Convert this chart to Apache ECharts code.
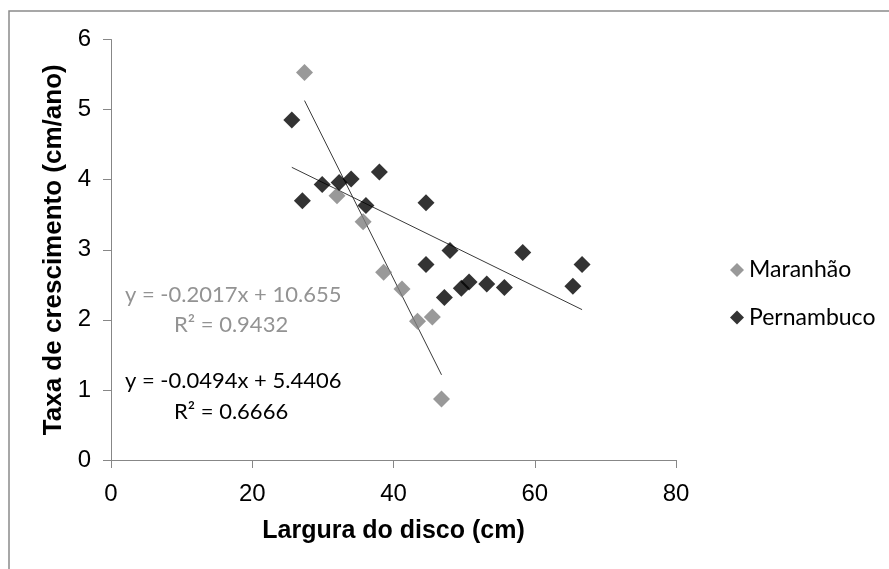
<!DOCTYPE html>
<html>
<head>
<meta charset="utf-8">
<script src="https://cdn.jsdelivr.net/npm/echarts@6/dist/echarts.min.js"></script>
<style>
  html, body { margin: 0; padding: 0; background: #fff; }
  #chart { width: 889px; height: 569px; }
</style>
</head>
<body>
<div id="chart"></div>
<script>
// Disc width (cm) vs growth rate (cm/year), two sampling regions
const maranhaoX = [27.4, 32.0, 35.7, 38.6, 41.2, 43.4, 45.5, 46.8];
const maranhaoY = [5.53, 3.77, 3.40, 2.68, 2.44, 1.98, 2.04, 0.87];

const pernambucoX = [25.6, 27.1, 29.9, 32.3, 34.0, 36.1, 38.0, 44.6, 44.6, 48.0,
                     47.2, 49.6, 50.7, 53.2, 55.7, 58.3, 65.4, 66.7];
const pernambucoY = [4.85, 3.70, 3.93, 3.96, 4.01, 3.63, 4.11, 3.67, 2.79, 2.99,
                     2.32, 2.45, 2.54, 2.51, 2.46, 2.96, 2.48, 2.79];

// Linear fits as printed on the chart: [slope, intercept, R²]
const maranhaoFit = [-0.2017, 10.655, 0.9432];
const pernambucoFit = [-0.0494, 5.4406, 0.6666];

const xTicks = [0, 20, 40, 60, 80];
const yTicks = [0, 1, 2, 3, 4, 5, 6];

const pairs = (xs, ys) => xs.map((x, i) => [x, ys[i]]);
// Fit line spanning the range of its own sample
const fitLine = (xs, fit) => {
  const lo = Math.min(...xs), hi = Math.max(...xs);
  return [[lo, fit[0] * lo + fit[1]], [hi, fit[0] * hi + fit[1]]];
};
const eqText = fit => 'y = ' + fit[0].toFixed(4) + 'x + ' + fit[1];
const r2Text = fit => 'R² = ' + fit[2].toFixed(4);

const GRAY = '#808080';
const GRAY_TEXT = '#939393';
const AXIS = '#878787';
const LABEL_FONT = 'Lato, "Open Sans", sans-serif';
const AXIS_FONT = '"Liberation Sans", Arial, sans-serif';

const chart = echarts.init(document.getElementById('chart'), null, { renderer: 'canvas' });

chart.setOption({
  backgroundColor: '#fff',
  animation: false,
  grid: { left: 111, right: 213, top: 39.5, bottom: 109 },
  xAxis: {
    type: 'value',
    min: xTicks[0],
    max: xTicks[xTicks.length - 1],
    interval: xTicks[1] - xTicks[0],
    name: 'Largura do disco (cm)',
    nameLocation: 'middle',
    nameGap: 59,
    nameTextStyle: { fontFamily: AXIS_FONT, fontWeight: 'bold', fontSize: 25, color: '#000' },
    axisLine: { lineStyle: { color: AXIS, width: 1 } },
    axisTick: { show: true, length: 8, lineStyle: { color: AXIS } },
    axisLabel: { margin: 22, fontFamily: AXIS_FONT, fontSize: 24, color: '#000' },
    splitLine: { show: false }
  },
  yAxis: {
    type: 'value',
    min: yTicks[0],
    max: yTicks[yTicks.length - 1],
    interval: yTicks[1] - yTicks[0],
    name: 'Taxa de crescimento (cm/ano)',
    nameLocation: 'middle',
    nameGap: 37,
    nameRotate: 90,
    nameTextStyle: { fontFamily: AXIS_FONT, fontWeight: 'bold', fontSize: 26, color: '#000' },
    axisLine: { show: true, lineStyle: { color: AXIS, width: 1 } },
    axisTick: { show: true, length: 8, lineStyle: { color: AXIS } },
    axisLabel: { margin: 20, fontFamily: AXIS_FONT, fontSize: 24, color: '#000' },
    splitLine: { show: false }
  },
  legend: {
    data: [
      { name: 'Maranhão', icon: 'diamond', itemStyle: { color: GRAY } },
      { name: 'Pernambuco', icon: 'diamond', itemStyle: { color: '#000' } }
    ],
    orient: 'vertical',
    left: 730,
    top: 258.5,
    padding: 0,
    itemWidth: 14,
    itemHeight: 14,
    itemGap: 24.5,
    textStyle: { fontFamily: LABEL_FONT, fontSize: 23, color: '#000', lineHeight: 23 }
  },
  series: [
    {
      name: 'Maranhão fit',
      type: 'line',
      data: fitLine(maranhaoX, maranhaoFit),
      symbol: 'none',
      lineStyle: { color: '#3a3a3a', width: 1 },
      silent: true,
      z: 1
    },
    {
      name: 'Pernambuco fit',
      type: 'line',
      data: fitLine(pernambucoX, pernambucoFit),
      symbol: 'none',
      lineStyle: { color: '#3a3a3a', width: 1 },
      silent: true,
      z: 1
    },
    {
      name: 'Maranhão',
      type: 'scatter',
      data: pairs(maranhaoX, maranhaoY),
      symbol: 'diamond',
      symbolSize: 17,
      itemStyle: { color: GRAY },
      z: 2
    },
    {
      name: 'Pernambuco',
      type: 'scatter',
      data: pairs(pernambucoX, pernambucoY),
      symbol: 'diamond',
      symbolSize: 17,
      itemStyle: { color: '#000' },
      z: 3
    }
  ],
  graphic: [
    {
      type: 'rect',
      shape: { x: 9, y: 11, width: 1000, height: 1000 },
      style: { fill: 'none', stroke: '#8a8a8a', lineWidth: 1.5 },
      silent: true, z: 100
    },
    {
      type: 'text', left: 125, top: 284,
      style: { text: eqText(maranhaoFit), fill: GRAY_TEXT, font: '22px ' + LABEL_FONT }
    },
    {
      type: 'text', left: 174, top: 314,
      style: { text: r2Text(maranhaoFit), fill: GRAY_TEXT, font: '22px ' + LABEL_FONT }
    },
    {
      type: 'text', left: 125, top: 370,
      style: { text: eqText(pernambucoFit), fill: '#000', font: '22px ' + LABEL_FONT }
    },
    {
      type: 'text', left: 174, top: 401,
      style: { text: r2Text(pernambucoFit), fill: '#000', font: '22px ' + LABEL_FONT }
    }
  ]
});
</script>
</body>
</html>
